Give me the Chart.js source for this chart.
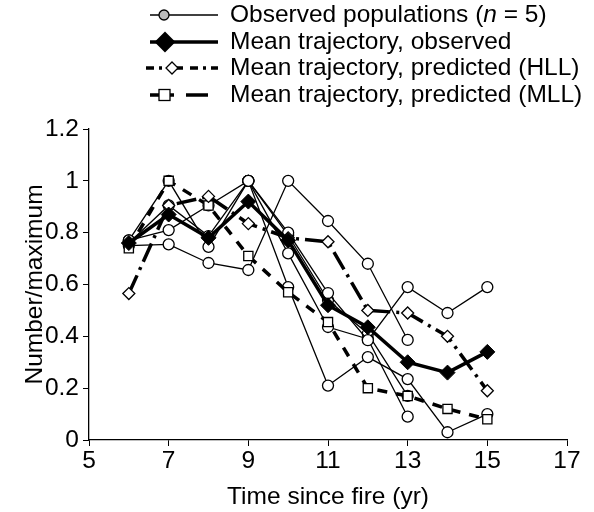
<!DOCTYPE html>
<html>
<head>
<meta charset="utf-8">
<script src="https://cdn.jsdelivr.net/npm/chart.js@4.4.1/dist/chart.umd.min.js"></script>
<style>
  body { margin: 0; background: #fff; }
</style>
</head>
<body>
<canvas id="fireChart" width="594" height="512"></canvas>
<script>
// years since fire
const years = [6, 7, 8, 9, 10, 11, 12, 13, 14, 15]

// five observed populations (number / maximum)
const popA = [0.75, 0.755, 0.683, 0.656, 1.0, 0.845, 0.68, 0.386, null, null]
const popB = [0.77, 1.0, 0.745, 1.0, 0.59, 0.21, 0.32, 0.235, 0.03, 0.10]
const popC = [0.77, 0.81, 0.905, 1.0, 0.80, 0.567, 0.385, 0.59, 0.49, 0.59]
const popD = [0.76, 0.905, 0.787, 1.0, 0.79, 0.54, 0.41, 0.17, null, null]
const popE = [null, null, null, 1.0, 0.72, 0.436, 0.39, 0.09, null, null]

const meanObserved = [0.76, 0.87, 0.78, 0.92, 0.77, 0.52, 0.435, 0.30, 0.26, 0.34]
const meanHLL = [0.565, 0.905, 0.94, 0.835, 0.78, 0.765, 0.50, 0.49, 0.40, 0.19]
const meanMLL = [0.74, 1.0, 0.905, 0.71, 0.57, 0.455, 0.20, 0.17, 0.12, 0.08]

const xTicks = [5, 7, 9, 11, 13, 15, 17]
const yTicks = [0, 0.2, 0.4, 0.6, 0.8, 1, 1.2]

const legendLabels = [
    'Observed populations (n = 5)',
    'Mean trajectory, observed',
    'Mean trajectory, predicted (HLL)',
    'Mean trajectory, predicted (MLL)'
]

const fontFam = '"Liberation Sans", Arial, Helvetica, sans-serif'
const fSize = 24.5

function pts(vals) {
    return years.map((x, i) => ({ x: x, y: vals[i] }))
}

function obsSet(vals) {
    return {
        data: pts(vals),
        borderColor: '#000',
        borderWidth: 1.3,
        pointStyle: 'circle',
        pointRadius: 5.5,
        pointBackgroundColor: '#fff',
        pointBorderColor: '#000',
        pointBorderWidth: 1.3,
        order: 4
    }
}

// legend drawn by hand: line sample + marker + text
const handLegend = {
    id: 'handLegend',
    afterDraw(c) {
        const ctx = c.ctx
        const rows = [15, 42, 68, 95]
        const x0 = 150, x1 = 218, tx = 230
        ctx.save()
        ctx.strokeStyle = '#000'
        ctx.fillStyle = '#000'

        // row 1
        ctx.lineWidth = 1.3
        ctx.beginPath(); ctx.moveTo(x0, rows[0]); ctx.lineTo(x1, rows[0]); ctx.stroke()
        ctx.beginPath(); ctx.arc(164, rows[0], 5, 0, Math.PI * 2)
        ctx.fillStyle = '#bbb'; ctx.fill(); ctx.stroke()

        // row 2
        ctx.fillStyle = '#000'
        ctx.lineWidth = 3.5
        ctx.beginPath(); ctx.moveTo(x0, rows[1]); ctx.lineTo(x1, rows[1]); ctx.stroke()
        diamond(ctx, 165, rows[1], 8, '#000')

        // row 3
        ctx.setLineDash([8, 5, 3, 5, 16, 7])
        ctx.beginPath(); ctx.moveTo(x0 - 4, rows[2]); ctx.lineTo(x1, rows[2]); ctx.stroke()
        ctx.setLineDash([])
        ctx.lineWidth = 1.3
        diamond(ctx, 172, rows[2], 6, '#fff')

        // row 4
        ctx.lineWidth = 3.5
        ctx.setLineDash([24, 12, 22, 20])
        ctx.beginPath(); ctx.moveTo(x0, rows[3]); ctx.lineTo(x1, rows[3]); ctx.stroke()
        ctx.setLineDash([])
        ctx.lineWidth = 1.3
        ctx.fillStyle = '#fff'
        ctx.fillRect(159, rows[3] - 5.5, 11, 11)
        ctx.strokeRect(159, rows[3] - 5.5, 11, 11)

        // text
        ctx.fillStyle = '#000'
        ctx.textBaseline = 'middle'
        ctx.textAlign = 'left'
        ctx.font = fSize + 'px ' + fontFam
        let a = 'Observed populations ('
        ctx.fillText(a, tx, rows[0])
        let w = ctx.measureText(a).width
        ctx.font = 'italic ' + fSize + 'px ' + fontFam
        ctx.fillText('n', tx + w, rows[0])
        w += ctx.measureText('n').width
        ctx.font = fSize + 'px ' + fontFam
        ctx.fillText(' = 5)', tx + w, rows[0])
        for (let i = 1; i < 4; i++) {
            ctx.fillText(legendLabels[i], tx, rows[i])
        }
        ctx.restore()
    }
}

function diamond(ctx, x, y, r, fill) {
    ctx.beginPath()
    ctx.moveTo(x, y - r); ctx.lineTo(x + r, y); ctx.lineTo(x, y + r); ctx.lineTo(x - r, y)
    ctx.closePath()
    ctx.fillStyle = fill
    ctx.fill()
    ctx.stroke()
}

Chart.defaults.font.family = fontFam
Chart.defaults.color = '#000'

new Chart(document.getElementById('fireChart'), {
    type: 'line',
    data: {
        datasets: [
            {
                data: pts(meanObserved),
                borderColor: '#000',
                borderWidth: 3.5,
                pointStyle: 'rectRot',
                pointRadius: 7.5,
                pointBackgroundColor: '#000',
                pointBorderColor: '#000',
                pointBorderWidth: 1,
                order: 1
            },
            {
                data: pts(meanHLL),
                borderColor: '#000',
                borderWidth: 3.5,
                borderDash: [20, 6, 3, 6],
                pointStyle: 'rectRot',
                pointRadius: 6,
                pointBackgroundColor: '#fff',
                pointBorderColor: '#000',
                pointBorderWidth: 1.3,
                order: 2
            },
            {
                data: pts(meanMLL),
                borderColor: '#000',
                borderWidth: 3.5,
                borderDash: [10, 9],
                pointStyle: 'rect',
                pointRadius: 6.5,
                pointBackgroundColor: '#fff',
                pointBorderColor: '#000',
                pointBorderWidth: 1.3,
                order: 3
            },
            obsSet(popA), obsSet(popB), obsSet(popC), obsSet(popD), obsSet(popE)
        ]
    },
    options: {
        responsive: false,
        animation: false,
        events: [],
        layout: { padding: { top: 129, right: 27, left: 0, bottom: 0 } },
        elements: { line: { tension: 0 } },
        plugins: {
            legend: { display: false },
            tooltip: { enabled: false }
        },
        scales: {
            x: {
                type: 'linear',
                min: 5, max: 17,
                afterBuildTicks: s => { s.ticks = xTicks.map(v => ({ value: v })) },
                afterFit: s => { s.height = 72 },
                grid: { drawOnChartArea: false, color: '#000', tickLength: 6, tickColor: '#000' },
                border: { color: '#000', width: 1.3 },
                ticks: { font: { size: fSize }, padding: 1, maxRotation: 0 },
                title: { display: true, text: 'Time since fire (yr)', font: { size: fSize }, padding: { top: 11, bottom: 0 } }
            },
            y: {
                min: 0, max: 1.2,
                afterBuildTicks: s => { s.ticks = yTicks.map(v => ({ value: v })) },
                afterFit: s => { s.width = 89 },
                grid: { drawOnChartArea: false, color: '#000', tickLength: 6, tickColor: '#000' },
                border: { color: '#000', width: 1.3 },
                ticks: { font: { size: fSize }, padding: 4, callback: v => String(+v.toFixed(1)) },
                title: { display: true, text: 'Number/maximum', font: { size: fSize }, padding: { top: 21, bottom: 0 } }
            }
        }
    },
    plugins: [handLegend]
})
</script>
</body>
</html>
